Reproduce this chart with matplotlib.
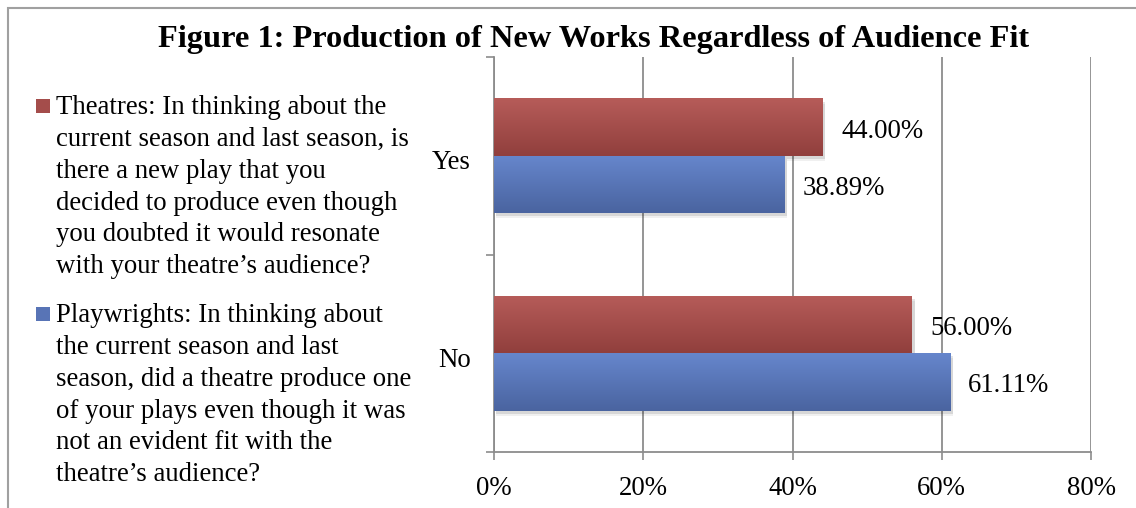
import numpy as np
import matplotlib
matplotlib.use("Agg")
import matplotlib.pyplot as plt
import matplotlib.transforms as mtransforms
from matplotlib.patches import Rectangle
from matplotlib.colors import LinearSegmentedColormap

plt.rcParams["font.family"] = ["Liberation Serif", "DejaVu Serif"]

# ── data ─────────────────────────────────────────────
categories = ["Yes", "No"]
theatres = [44.00, 56.00]
playwrights = [38.89, 61.11]
x_ticks = [0, 20, 40, 60, 80]

title = "Figure 1: Production of New Works Regardless of Audience Fit"
legend_theatres = ("Theatres: In thinking about the\n"
                   "current season and last season, is\n"
                   "there a new play that you\n"
                   "decided to produce even though\n"
                   "you doubted it would resonate\n"
                   "with your theatre\u2019s audience?")
legend_playwrights = ("Playwrights: In thinking about\n"
                      "the current season and last\n"
                      "season, did a theatre produce one\n"
                      "of your plays even though it was\n"
                      "not an evident fit with the\n"
                      "theatre\u2019s audience?")

RED_TOP, RED_BOT = "#b65c59", "#913f3d"
BLUE_TOP, BLUE_BOT = "#6686cc", "#4a64a0"
GRID = "#8c8c8c"
FS = 19.3

W, H = 1136, 508
fig = plt.figure(figsize=(W / 100, H / 100), dpi=100)

# outer chart frame (runs off right and bottom edges)
fig.patches.append(Rectangle((8 / W, -0.1), 1.2, (H - 8) / H + 0.1,
                             transform=fig.transFigure, fill=False,
                             edgecolor="#a0a0a0", lw=1.5))

ax = fig.add_axes([494 / W, 56 / H, (1091 - 494) / W, (452 - 57) / H])

ypos = np.array([1, 0])
bh = 0.29


def grad_bar(x, y, w, h, top, bot):
    # soft drop shadow
    for k, a in [(0.012, 0.10), (0.02, 0.06)]:
        ax.add_patch(Rectangle((x + 0.25, y - k * 1.3), w + 0.15, h,
                               facecolor="black", alpha=a, lw=0, zorder=2))
    r = Rectangle((x, y), w, h, facecolor="none", lw=0, zorder=3)
    ax.add_patch(r)
    cmap = LinearSegmentedColormap.from_list("g", [bot, top])
    img = ax.imshow(np.linspace(0, 1, 64).reshape(-1, 1), cmap=cmap,
                    extent=(x, x + w, y, y + h), origin="lower",
                    aspect="auto", zorder=3, interpolation="bilinear")
    img.set_clip_path(r)


for yp, t, p in zip(ypos, theatres, playwrights):
    grad_bar(0, yp, t, bh, RED_TOP, RED_BOT)
    grad_bar(0, yp - bh, p, bh, BLUE_TOP, BLUE_BOT)
    ax.text(t + 2.5, yp + bh / 2 - 0.02, f"{t:.2f}%", fontsize=FS,
            va="center", ha="left")
    ax.text(p + 2.4, yp - bh / 2 - 0.02, f"{p:.2f}%", fontsize=FS,
            va="center", ha="left")

ax.set_xlim(0, 80)
ax.set_ylim(-0.5, 1.5)
ax.set_xticks(x_ticks)
ax.set_xticklabels([f"{v}%" for v in x_ticks], fontsize=FS)
ax.set_yticks(ypos)
ax.set_yticklabels(categories, fontsize=FS)
ax.set_yticks([-0.5, 0.5, 1.5], minor=True)
ax.tick_params(axis="y", which="major", length=0, pad=16.5)
ax.tick_params(axis="y", which="minor", length=6, color=GRID, width=1.2)
ax.tick_params(axis="x", length=6, color=GRID, width=1.2, pad=11)
shift = mtransforms.ScaledTranslation(0, -4 / 100, fig.dpi_scale_trans)
for lab in ax.get_yticklabels():
    lab.set_transform(lab.get_transform() + shift)
ax.grid(axis="x", color=GRID, lw=1.3, zorder=1)
ax.set_axisbelow(True)
for s in ["top", "right"]:
    ax.spines[s].set_visible(False)
for s in ["left", "bottom"]:
    ax.spines[s].set_color(GRID)
    ax.spines[s].set_linewidth(1.3)

fig.text(594 / W, 1 - 40 / H, title, fontsize=23.3, fontweight="bold",
         ha="center", va="center")

# legend block on the left
for ytop, col, txt in [(98, "#a44d4b", legend_theatres),
                       (306, "#5874b6", legend_playwrights)]:
    fig.patches.append(Rectangle((36 / W, 1 - (ytop + 15) / H), 14 / W, 14 / H,
                                 transform=fig.transFigure, facecolor=col,
                                 lw=0))
    fig.text(56 / W, 1 - (ytop - 3) / H, txt, fontsize=FS, ha="left",
             va="top", linespacing=1.36)

fig.savefig("out.png", dpi=100)
